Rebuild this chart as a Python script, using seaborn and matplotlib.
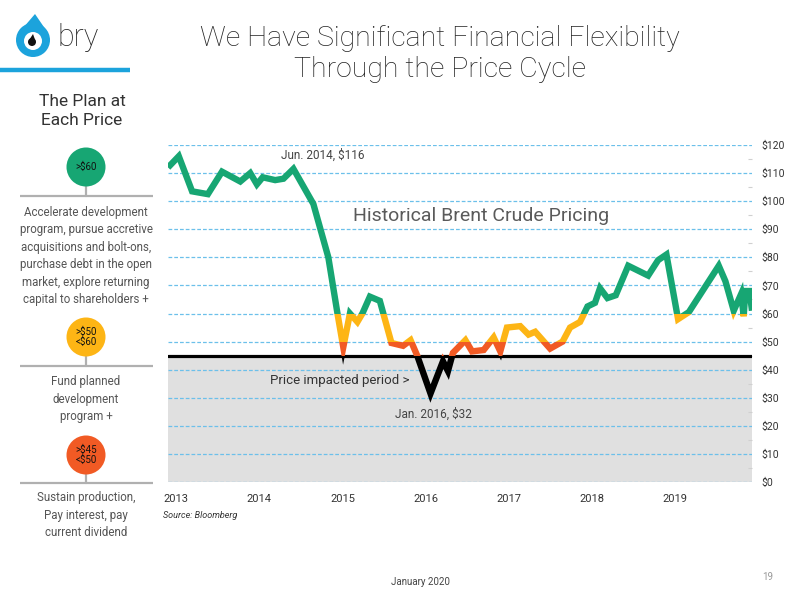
import pandas as pd
import matplotlib
matplotlib.use("Agg")
import matplotlib.pyplot as plt
from matplotlib.patches import Rectangle, Circle, Polygon
from matplotlib.ticker import FuncFormatter
import seaborn as sns

# Brent crude (decimal year, $/bbl)
dates = [2013.00, 2013.13, 2013.29, 2013.48, 2013.65, 2013.87, 2013.99, 2014.07,
         2014.14, 2014.29, 2014.39, 2014.51, 2014.75, 2014.93, 2015.04, 2015.11,
         2015.19, 2015.28, 2015.34, 2015.43, 2015.55, 2015.69, 2015.83, 2015.92,
         2016.00, 2016.16, 2016.31, 2016.37, 2016.43, 2016.58, 2016.66, 2016.80,
         2016.92, 2017.00, 2017.08, 2017.24, 2017.34, 2017.42, 2017.60, 2017.75,
         2017.84, 2017.96, 2018.05, 2018.14, 2018.20, 2018.29, 2018.39, 2018.54,
         2018.78, 2018.90, 2019.00, 2019.14, 2019.27, 2019.63, 2019.71, 2019.81,
         2019.90, 2019.93, 2019.95, 2020.00, 2020.03]
prices = [112, 116, 103.5, 102.5, 110.5, 107, 110, 106,
          108.5, 107.5, 108, 111.5, 99, 80, 60, 48,
          60, 57, 60, 66, 64.5, 49.5, 48.5, 50.5,
          45, 31.5, 43, 39.5, 46, 50.5, 46.5, 47,
          51.5, 46.5, 55, 55.5, 52.5, 53.5, 47.5, 50,
          55, 57, 62.5, 63.8, 69, 65.5, 66.5, 77,
          73.5, 79, 81, 58, 60.5, 77, 71.5, 61,
          67, 59, 68, 68, 61]

years = [2013, 2014, 2015, 2016, 2017, 2018, 2019]
price_ticks = list(range(0, 130, 10))
impact_level = 45

# line colour by price band
band_edges = [-50, 45, 50, 60, 200]
band_colors = ['black', '#f15a24', '#fdb515', '#17a673']

plan_labels = ['>\\$60', '>\\$50\n<\\$60', '>\\$45\n<\\$50']
plan_colors = ['#17a673', '#fdb515', '#f15a24']
plan_texts = ['Accelerate development\nprogram, pursue accretive\nacquisitions and bolt-ons,\n'
              'purchase debt in the open\nmarket, explore returning\ncapital to shareholders +',
              'Fund planned\ndevelopment\nprogram +',
              'Sustain production,\nPay interest, pay\ncurrent dividend']

sns.set_style('white')
plt.rcParams['font.family'] = ['Roboto', 'DejaVu Sans']

fig = plt.figure(figsize=(8, 6), dpi=100)

# background layer in pixel coordinates for the slide decoration
bg = fig.add_axes([0, 0, 1, 1])
bg.set_xlim(0, 800)
bg.set_ylim(600, 0)
bg.axis('off')
bg.set_zorder(-1)

# logo
bg.add_patch(Polygon([(17, 35), (35, 14), (48, 33)], closed=True, color='#1ca3dc', lw=0))
bg.add_patch(Circle((33, 40), 17, color='#1ca3dc', lw=0))
bg.add_patch(Circle((33, 41), 9, color='white', lw=0))
bg.add_patch(Circle((32, 42), 4, color='#111111', lw=0))
bg.add_patch(Polygon([(28.5, 41), (33, 34), (35.5, 41)], closed=True, color='#111111', lw=0))
bg.text(57, 38, 'bry', fontsize=22, weight='light', color='#222222', va='center', ha='left')
bg.plot([0, 130], [70, 70], color='#1ca3dc', lw=3.2, solid_capstyle='butt')

bg.text(82, 111, 'The Plan at\nEach Price', fontsize=12.5, color='#333333',
        ha='center', va='center', linespacing=1.3)

circle_y = [167, 337, 455]
rule_y = [196, 366, 483]
text_y = [256, 399, 515]
for lab, col, txt, cy, ry, ty in zip(plan_labels, plan_colors, plan_texts, circle_y, rule_y, text_y):
    bg.plot([20, 153], [ry, ry], color='#b0b0b0', lw=1.6, solid_capstyle='butt')
    bg.plot([86, 86], [cy, ry], color='#b0b0b0', lw=1.6)
    bg.add_patch(Circle((86, cy), 19.5, color=col, lw=0, zorder=3))
    bg.text(86, cy, lab, fontsize=7, color='#111111', ha='center',
            va='center', linespacing=1.05, zorder=4)
    bg.text(86, ty, txt, fontsize=8.3, color='#555555', ha='center', va='center',
            linespacing=1.45)

fig.text(440 / 800, 1 - 54 / 600,
         'We Have Significant Financial Flexibility\nThrough the Price Cycle',
         fontsize=20.5, weight='light', color='#222222',
         ha='center', va='center', linespacing=1.2)

# price chart
ax = fig.add_axes([168 / 800, 1 - 482 / 600, 584 / 800, 337 / 600])
ax.set_facecolor('none')
ax.axhspan(0, impact_level, color='#e0e0e0', lw=0, zorder=0)
ax.axhline(impact_level, color='black', lw=2.3, zorder=2)

price_df = pd.DataFrame({'date': dates, 'price': prices})
for lo, hi, col in zip(band_edges[:-1], band_edges[1:], band_colors):
    sns.lineplot(data=price_df, x='date', y='price', ax=ax, color=col, lw=4.6,
                 sort=False, estimator=None, zorder=3)
    line = ax.lines[-1]
    line.set_solid_joinstyle('miter')
    line.set_solid_capstyle('butt')
    line.set_clip_path(Rectangle((dates[0], lo), dates[-1] - dates[0], hi - lo,
                                 transform=ax.transData))

ax.set_xlim(dates[0], dates[-1])
ax.set_ylim(price_ticks[0], price_ticks[-1])
ax.set_xlabel('')
ax.set_ylabel('')
for s in ax.spines.values():
    s.set_visible(False)

ax.yaxis.tick_right()
ax.set_yticks(price_ticks)
ax.yaxis.set_major_formatter(FuncFormatter(lambda v, p: '\\$%d' % v))
ax.set_yticks([t + 5 for t in price_ticks[:-1]], minor=True)
ax.tick_params(axis='y', which='major', length=0, pad=7, labelsize=7.5, labelcolor='#333333')
ax.tick_params(axis='y', which='minor', length=3, width=0.8, color='#d0d0d0', direction='in')
ax.set_xticks([y + 0.1 for y in years])
ax.set_xticklabels([str(y) for y in years])
ax.tick_params(axis='x', length=0, pad=9, labelsize=8, labelcolor='#333333')

ax.grid(axis='y', color='#6cc0ea', lw=0.9, ls=(0, (3, 1.6)))
ax.grid(axis='x', visible=False)
ax.set_axisbelow(True)

ax.text(2014.86, 116.4, 'Jun. 2014, \\$116', fontsize=8.5, color='#444444', ha='center', va='center')
ax.text(2016.19, 24.3, 'Jan. 2016, \\$32', fontsize=8.5, color='#444444', ha='center', va='center')
ax.text(2015.07, 36, 'Price impacted period >', fontsize=9.5, color='#333333', ha='center', va='center')
ax.text(2016.77, 94.6, 'Historical Brent Crude Pricing', fontsize=14, color='#5a5a5a',
        ha='center', va='center')

fig.text(163 / 800, 1 - 516 / 600, 'Source: Bloomberg', fontsize=6.5, style='italic',
         color='#333333', va='center')
fig.text(420 / 800, 1 - 582 / 600, 'January 2020', fontsize=7, color='#444444',
         ha='center', va='center')
fig.text(768 / 800, 1 - 577 / 600, '19', fontsize=7, color='#999999', ha='center', va='center')

fig.savefig('out.png', dpi=100)
